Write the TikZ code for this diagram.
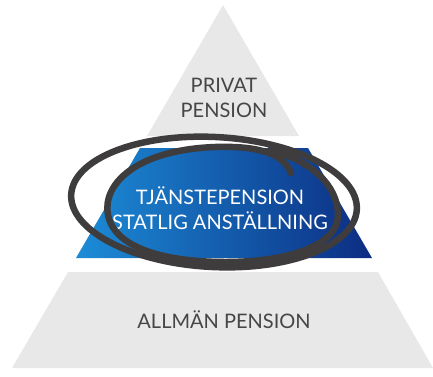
\documentclass[tikz,border=0pt]{standalone}
\usepackage{fontspec}
\setmainfont{Lato}
\definecolor{pyrgray}{RGB}{232,232,232}
\definecolor{txtgray}{RGB}{70,70,70}
\definecolor{blueL}{RGB}{28,140,215}
\definecolor{blueM}{RGB}{20,95,180}
\definecolor{blueR}{RGB}{12,45,130}
\definecolor{ring}{RGB}{62,60,60}
\tikzset{
	lbl/.style={align=center,font=\fontsize{20}{25}\selectfont},
	ringline/.style={draw=ring,line width=6.5pt,line cap=round}
}
\begin{document}
\begin{tikzpicture}[x=1pt,y=-1pt]
		\useasboundingbox (0,0) rectangle (433,376);
		% pyramiden
		\fill[pyrgray] (223,5) -- (299,136) -- (147,136) -- cycle;
		\shade[left color=blueL,middle color=blueM,right color=blueR]
			(140,148) -- (308,148) -- (372,258) -- (76,258) -- cycle;
		\fill[pyrgray] (68,272) -- (378,272) -- (433,368) -- (12,368) -- cycle;
		\node[lbl,text=txtgray] (privat) at (224,98) {PRIVAT\\PENSION};
		\node[lbl,text=white] (tjanste) at (220,208) {TJÄNSTEPENSION\\STATLIG ANSTÄLLNING};
		\node[lbl,text=txtgray] (allman) at (224,320) {ALLMÄN PENSION};
		% ringen
		\draw[ringline,rotate around={-3:(214,202)}] (214,202) ellipse [x radius=143,y radius=65];
		\draw[ringline] (291,173) .. controls (282,150) and (250,146) .. (215,147)
			.. controls (135,150) and (102,185) .. (108,215)
			.. controls (115,250) and (170,262) .. (225,262)
			.. controls (290,262) and (338,245) .. (338,215)
			.. controls (338,185) and (310,160) .. (270,150);
	\end{tikzpicture}
\end{document}
